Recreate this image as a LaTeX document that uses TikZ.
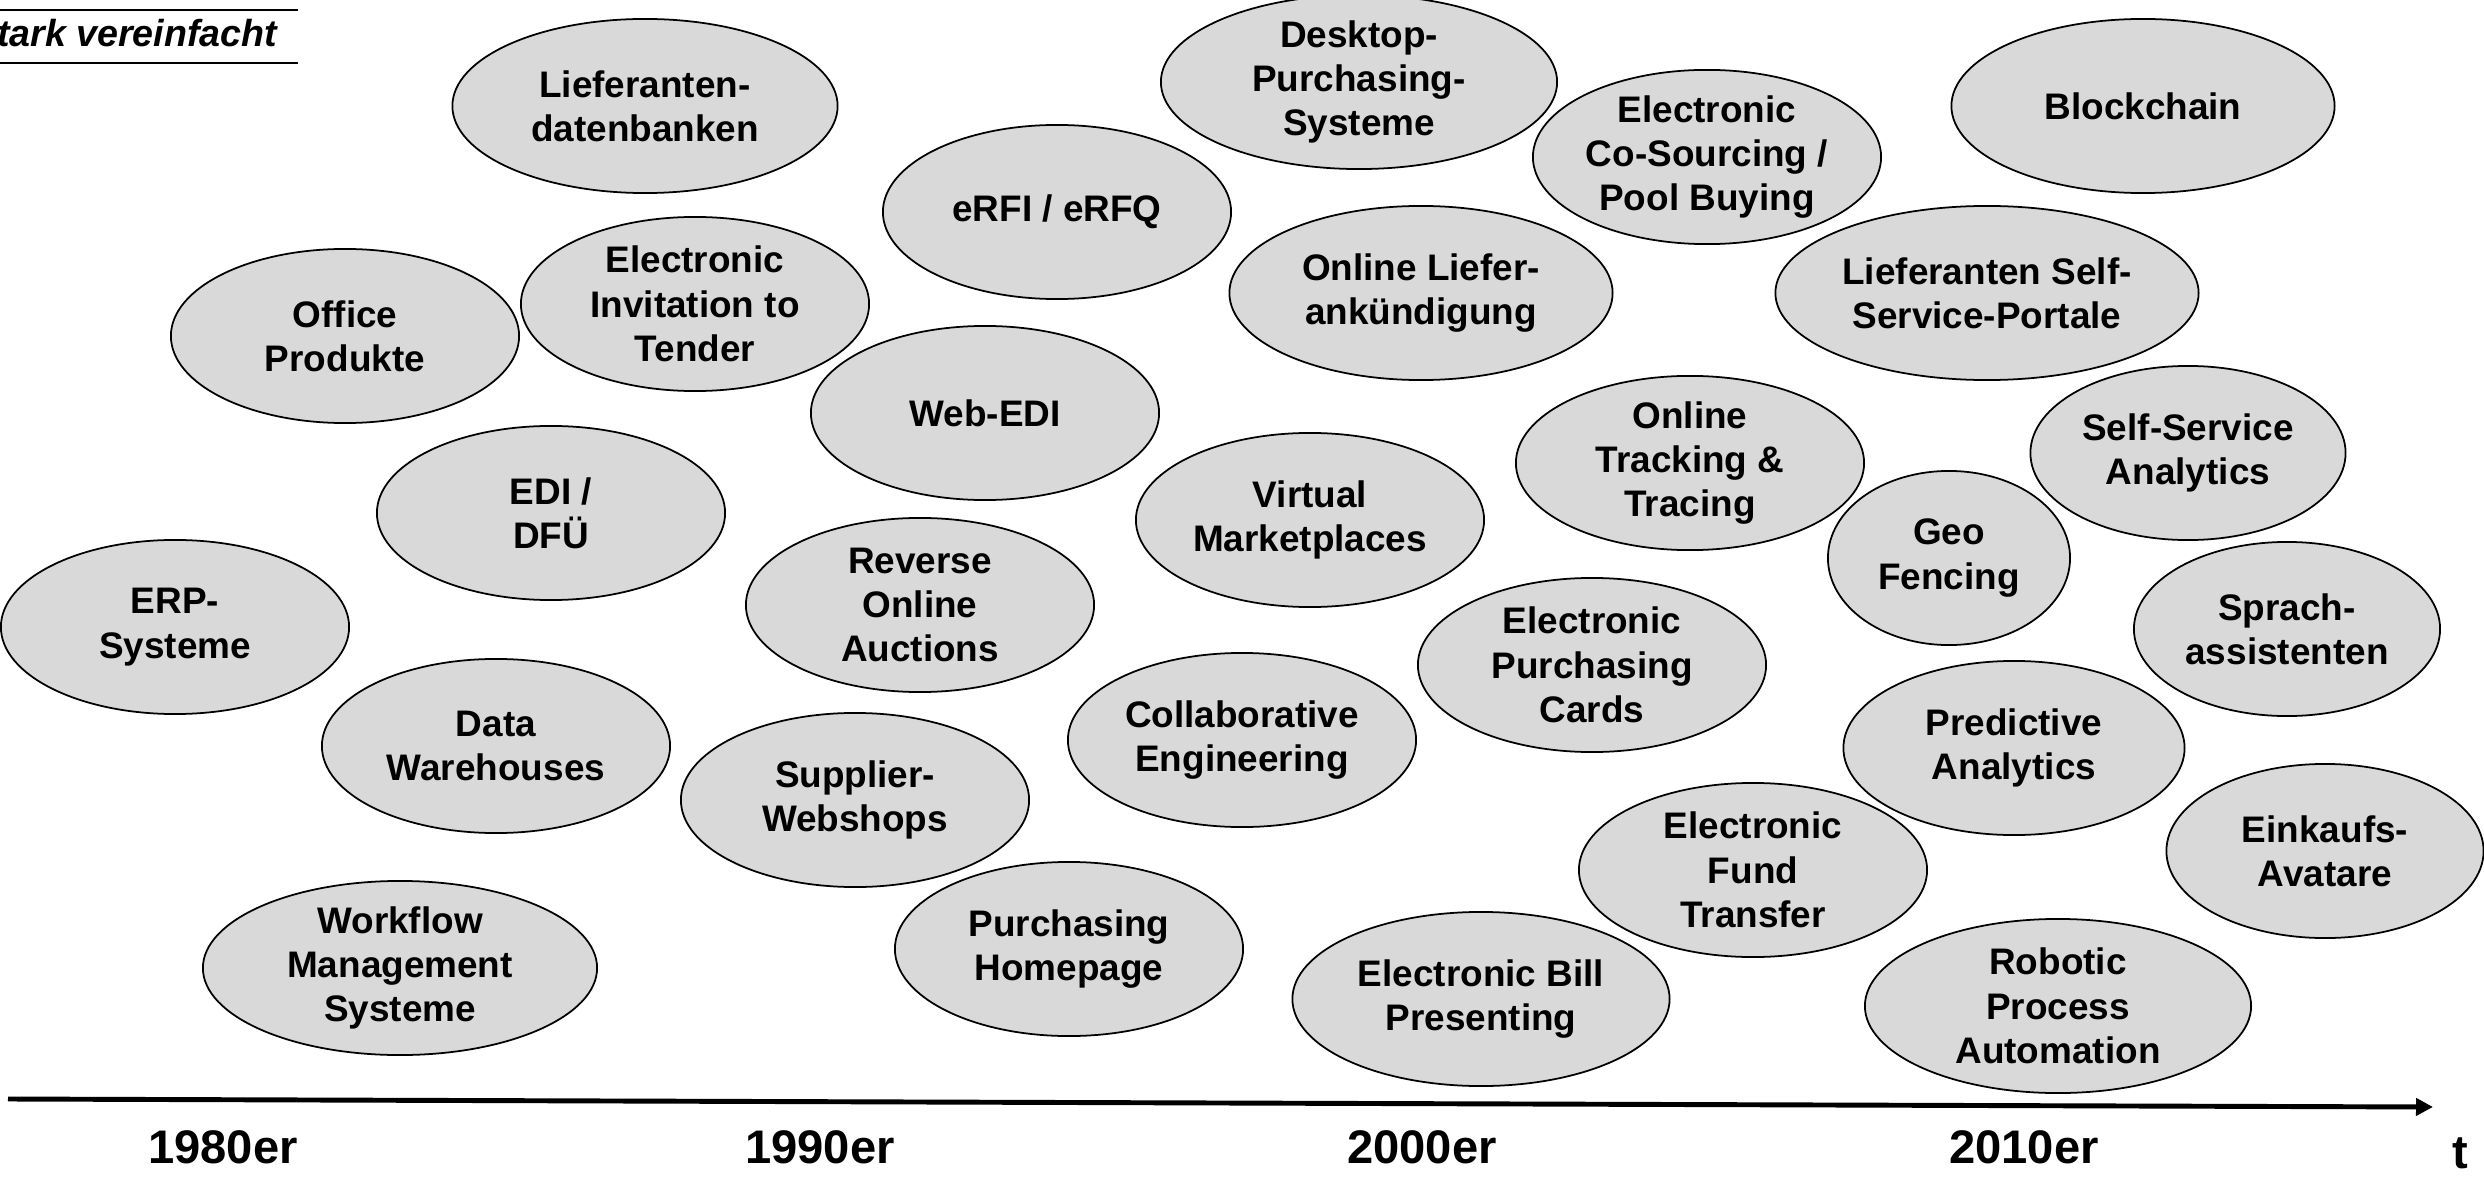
\documentclass[tikz,border=0pt]{standalone}
\usepackage{fontspec}
\setmainfont{Liberation Sans}
\usetikzlibrary{shapes.geometric,arrows.meta}
\definecolor{bubfill}{RGB}{217,217,217}
\begin{document}
\begin{tikzpicture}[x=0.01cm,y=-0.01cm,
  bub/.style={ellipse, draw=black, line width=0.5pt, fill=bubfill, inner sep=0pt,
    minimum height=1.74cm, minimum width=3.48cm, align=center,
    font=\fontsize{10.5}{12.6}\selectfont\bfseries},
  year/.style={font=\fontsize{13.4}{16}\selectfont\bfseries}]
\useasboundingbox (0,0) rectangle (2484,1182);
\clip (0,0) rectangle (2484,1182);
\node[bub, minimum width=3.85cm] (n1) at (645,106) {Lieferanten-\\datenbanken};
\node[bub, minimum width=3.96cm] (n2) at (1359,82) {Desktop-\\Purchasing-\\Systeme};
\node[bub] (n3) at (1707,157) {Electronic\\Co-Sourcing /\\Pool Buying};
\node[bub, minimum width=3.83cm] (n4) at (2143,106) {Blockchain};
\node[bub] (n5) at (1057,212) {eRFI / eRFQ};
\node[bub, minimum width=3.83cm] (n6) at (1421,293) {Online Liefer-\\ankündigung};
\node[bub, minimum width=4.23cm] (n7) at (1987,293) {Lieferanten Self-\\Service-Portale};
\node[bub] (n8) at (345,336) {Office\\Produkte};
\node[bub] (n9) at (695,304) {Electronic\\Invitation to\\Tender};
\node[bub] (n10) at (985,413) {Web-EDI};
\node[bub] (n11) at (551,513) {EDI /\\DFÜ};
\node[bub] (n12) at (1690,463) {Online\\Tracking \&\\Tracing};
\node[bub, minimum width=3.15cm] (n13) at (2188,453) {Self-Service\\Analytics};
\node[bub] (n14) at (1310,520) {Virtual\\Marketplaces};
\node[bub, minimum width=2.42cm] (n15) at (1949,558) {Geo\\Fencing};
\node[bub] (n16) at (175,627) {ERP-\\Systeme};
\node[bub] (n17) at (920,605) {Reverse\\Online\\Auctions};
\node[bub, minimum width=3.06cm] (n18) at (2287,629) {Sprach-\\assistenten};
\node[bub] (n19) at (1592,665) {Electronic\\Purchasing\\Cards};
\node[bub] (n20) at (496,746) {Data\\Warehouses};
\node[bub] (n21) at (1242,740) {Collaborative\\Engineering};
\node[bub, minimum width=3.41cm] (n22) at (2014,748) {Predictive\\Analytics};
\node[bub] (n23) at (855,800) {Supplier-\\Webshops};
\node[bub] (n24) at (1753,870) {Electronic\\Fund\\Transfer};
\node[bub, minimum width=3.17cm] (n25) at (2325,851) {Einkaufs-\\Avatare};
\node[bub, minimum width=3.94cm] (n26) at (400,968) {Workflow\\Management\\Systeme};
\node[bub] (n27) at (1069,949) {Purchasing\\Homepage};
\node[bub, minimum width=3.77cm] (n28) at (1481,999) {Electronic Bill\\Presenting};
\node[bub, minimum width=3.86cm] (n29) at (2058,1006) {Robotic\\Process\\Automation};
% time axis
\coordinate (as) at (8,1099);
\coordinate (ae) at (2433,1107);
\draw[line width=1.4pt, -{Triangle[length=0.17cm,width=0.17cm]}] (as) -- (ae);
\node[year] (y80) at (223,1147) {1980er};
\node[year] (y90) at (820,1147) {1990er};
\node[year] (y00) at (1422,1147) {2000er};
\node[year] (y10) at (2024,1147) {2010er};
\node[year] (t) at (2460,1153) {t};
% note
\draw[line width=0.7pt] (0,10) -- (298,10);
\draw[line width=0.7pt] (0,63) -- (298,63);
\node[font=\fontsize{10.7}{12}\selectfont\bfseries\itshape, anchor=base east, inner sep=0pt] (note) at (278,47) {Stark vereinfacht};
\end{tikzpicture}
\end{document}
